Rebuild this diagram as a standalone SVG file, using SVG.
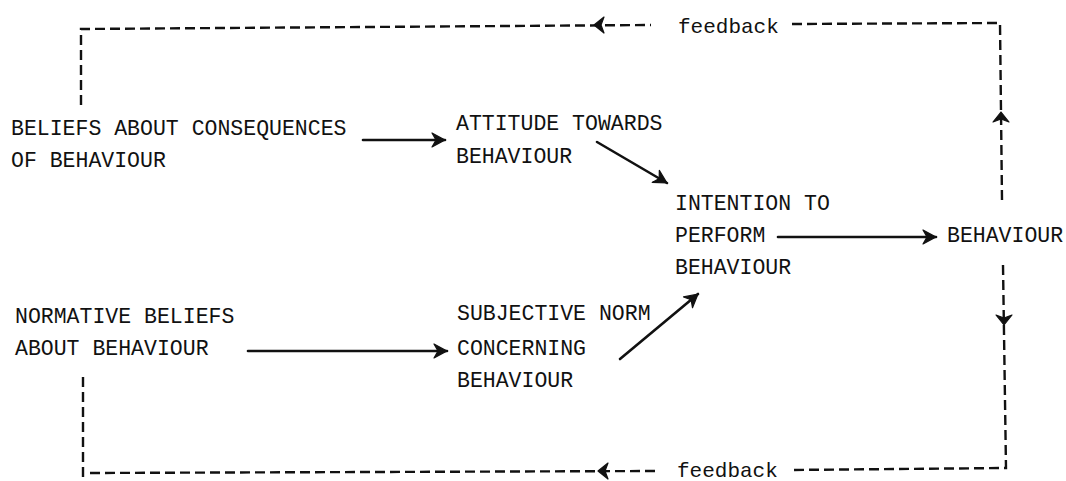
<svg xmlns="http://www.w3.org/2000/svg" xmlns:xlink="http://www.w3.org/1999/xlink" width="1066" height="481" viewBox="0 0 1066 481">
  <style>
    .lbl { font-family: "Liberation Mono", "DejaVu Sans Mono", monospace; font-size: 21.5px; fill: #111; }
    .fb { font-family: "Liberation Mono", "DejaVu Sans Mono", monospace; font-size: 21px; fill: #111; }
    .solid { stroke: #111; stroke-width: 2.6; fill: none; stroke-linecap: round; }
    .dash { stroke: #111; stroke-width: 2.4; fill: none; stroke-dasharray: 10 5; }
    .fbhead { fill: #111; stroke: #111; stroke-width: 1.2; stroke-linejoin: round; }
  </style>
  <defs>
    <marker id="arrow" markerUnits="userSpaceOnUse" markerWidth="20" markerHeight="20" viewBox="-16 -10 20 20" refX="0" refY="0" orient="auto">
      <path d="M0,0 L-13,-7 L-9,0 L-13,7 Z" fill="#111" stroke="#111" stroke-width="1.2" stroke-linejoin="round"/>
    </marker>
    <!-- small dart used on the dashed feedback lines -->
    <path id="dart" d="M2,0 L-8,-8 L-5,0 L-8,8 Z"/>
  </defs>

  <rect width="1066" height="481" fill="#fff"/>

  <!-- feedback loops and influence arrows -->
  <g id="connectors">
    <line class="solid" x1="363" y1="140" x2="445" y2="140" marker-end="url(#arrow)"/>
    <line class="solid" x1="597" y1="142" x2="667" y2="183" marker-end="url(#arrow)"/>
    <line class="solid" x1="248" y1="351" x2="447" y2="351" marker-end="url(#arrow)"/>
    <line class="solid" x1="620" y1="359" x2="698" y2="294" marker-end="url(#arrow)"/>
    <line class="solid" x1="778" y1="237" x2="936" y2="237" marker-end="url(#arrow)"/>

    <!-- upper feedback loop -->
    <path class="dash" d="M81,105 L81,29 L651,25"/>
    <path class="dash" d="M792,24 L1000,23 L1002,200"/>
    <use xlink:href="#dart" class="fbhead" transform="translate(596,25) rotate(180)"/>
    <use xlink:href="#dart" class="fbhead" transform="translate(1001,114) rotate(-90)"/>
    <text class="fb" x="678" y="33">feedback</text>

    <!-- lower feedback loop -->
    <path class="dash" d="M1003,265 L1006,468 L790,470"/>
    <path class="dash" d="M655,471 L86,473"/>
    <path class="dash" d="M83,377 L83,481"/>
    <use xlink:href="#dart" class="fbhead" transform="translate(1004,323) rotate(90)"/>
    <use xlink:href="#dart" class="fbhead" transform="translate(600,471) rotate(180)"/>
    <text class="fb" x="677" y="477">feedback</text>
  </g>

  <g id="beliefs-consequences">
    <text class="lbl" x="11" y="135">BELIEFS ABOUT CONSEQUENCES</text>
    <text class="lbl" x="11" y="167">OF BEHAVIOUR</text>
  </g>
  <g id="attitude">
    <text class="lbl" x="456" y="130">ATTITUDE TOWARDS</text>
    <text class="lbl" x="456" y="163">BEHAVIOUR</text>
  </g>
  <g id="intention">
    <text class="lbl" x="675" y="210">INTENTION TO</text>
    <text class="lbl" x="675" y="242">PERFORM</text>
    <text class="lbl" x="675" y="274">BEHAVIOUR</text>
  </g>
  <g id="behaviour">
    <text class="lbl" x="947" y="242">BEHAVIOUR</text>
  </g>
  <g id="normative-beliefs">
    <text class="lbl" x="15" y="323">NORMATIVE BELIEFS</text>
    <text class="lbl" x="15" y="355">ABOUT BEHAVIOUR</text>
  </g>
  <g id="subjective-norm">
    <text class="lbl" x="457" y="320">SUBJECTIVE NORM</text>
    <text class="lbl" x="457" y="355">CONCERNING</text>
    <text class="lbl" x="457" y="387">BEHAVIOUR</text>
  </g>
</svg>
